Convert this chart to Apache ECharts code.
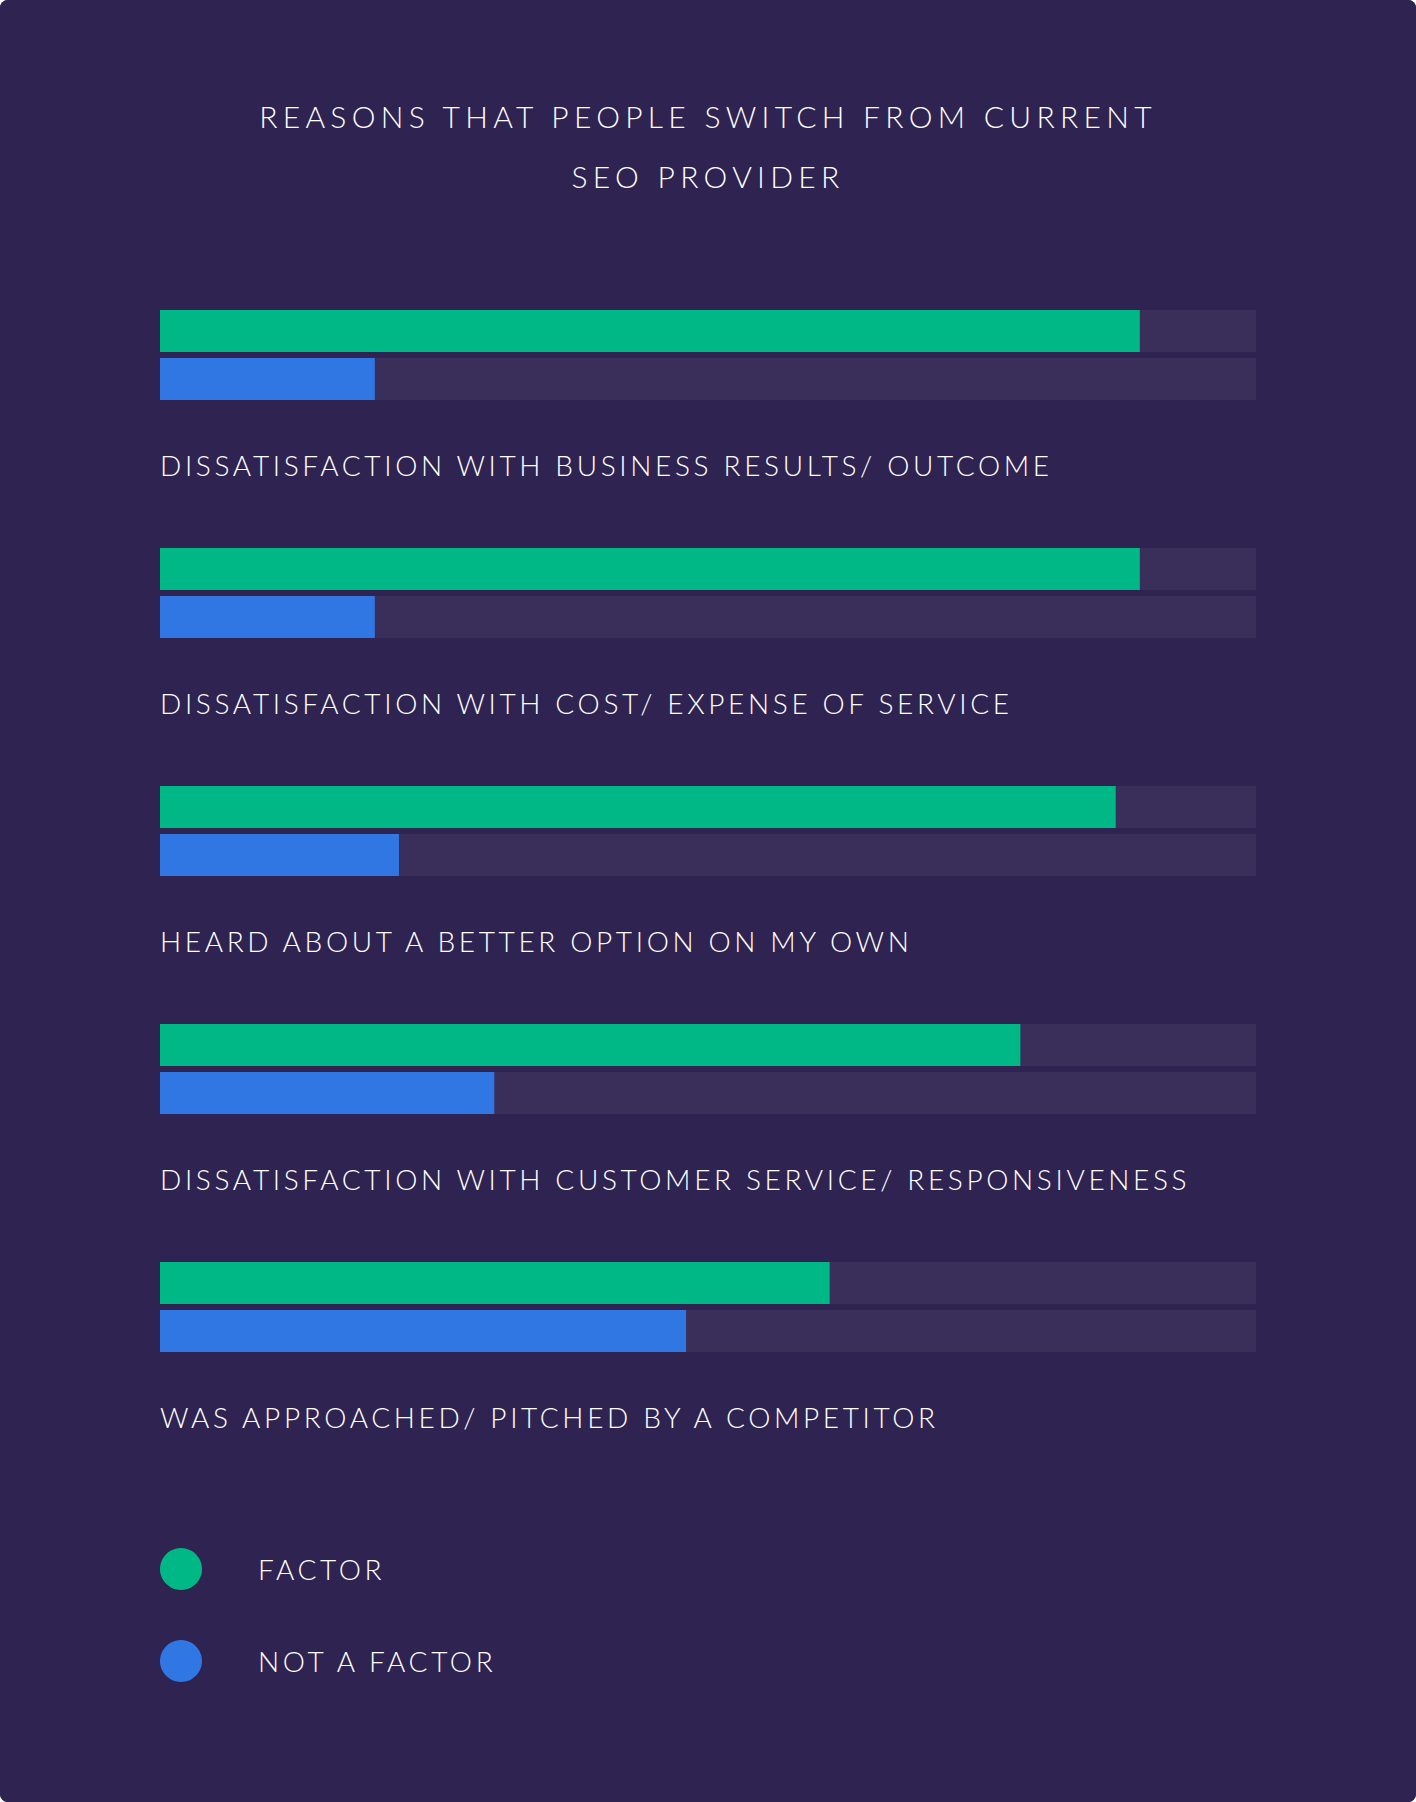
<!DOCTYPE html>
<html>
<head>
<meta charset="utf-8">
<script src="https://cdn.jsdelivr.net/npm/echarts@6/dist/echarts.min.js"></script>
<style>
  html, body { margin: 0; padding: 0; background: #ffffff; }
  #chart { width: 1416px; height: 1802px; background: #2e2351; border-radius: 8px; overflow: hidden; }
  #chart text { letter-spacing: 3.65px; }
  #chart text[style*="30px"] { letter-spacing: 5.3px; }
</style>
</head>
<body>
<div id="chart"></div>
<script>
const titleText = 'REASONS THAT PEOPLE SWITCH FROM CURRENT\nSEO PROVIDER';
const categories = [
  'DISSATISFACTION WITH BUSINESS RESULTS/ OUTCOME',
  'DISSATISFACTION WITH COST/ EXPENSE OF SERVICE',
  'HEARD ABOUT A BETTER OPTION ON MY OWN',
  'DISSATISFACTION WITH CUSTOMER SERVICE/ RESPONSIVENESS',
  'WAS APPROACHED/ PITCHED BY A COMPETITOR'
];
const seriesNames = ['FACTOR', 'NOT A FACTOR'];
const factorValues = [89.4, 89.4, 87.2, 78.5, 61.1];
const notFactorValues = [19.6, 19.6, 21.8, 30.5, 48.0];

const chart = echarts.init(document.getElementById('chart'), null, { renderer: 'svg' });
const FONT = 'Lato, "Open Sans", sans-serif';
chart.setOption({
  backgroundColor: '#2e2351',
  animation: false,
  title: {
    text: titleText,
    left: 'center',
    top: 86,
    padding: 0,
    textStyle: { color: '#ffffff', fontSize: 30, fontWeight: 300, fontFamily: FONT, lineHeight: 60 }
  },
  legend: {
    orient: 'vertical',
    left: 160,
    top: 1548,
    itemWidth: 42,
    itemHeight: 42,
    itemGap: 50,
    icon: 'circle',
    padding: 0,
    data: seriesNames,
    textStyle: { color: '#ffffff', fontSize: 28, fontWeight: 300, fontFamily: FONT, padding: [0, 0, 0, 51] }
  },
  grid: { left: 160, right: 160, top: 236, bottom: 376, containLabel: false },
  xAxis: {
    type: 'value', min: 0, max: 100,
    show: false
  },
  yAxis: {
    type: 'category', data: categories, inverse: true,
    axisLine: { show: false }, axisTick: { show: false }, axisLabel: { show: false }, splitLine: { show: false }
  },
  series: [
    {
      name: seriesNames[0], type: 'bar', data: factorValues,
      barWidth: 42, barGap: '14.3%',
      itemStyle: { color: '#00b886' },
      showBackground: true, backgroundStyle: { color: '#3a2f5a' }
    },
    {
      name: seriesNames[1], type: 'bar', data: notFactorValues,
      barWidth: 42, barGap: '14.3%',
      itemStyle: { color: '#3077e4' },
      showBackground: true, backgroundStyle: { color: '#3a2f5a' },
      label: {
        show: true, formatter: '{b}', position: [0, '100%'], offset: [0, 65],
        align: 'left', verticalAlign: 'middle',
        color: '#ffffff', fontSize: 28, fontWeight: 300, fontFamily: FONT
      }
    }
  ]
});
</script>
</body>
</html>
